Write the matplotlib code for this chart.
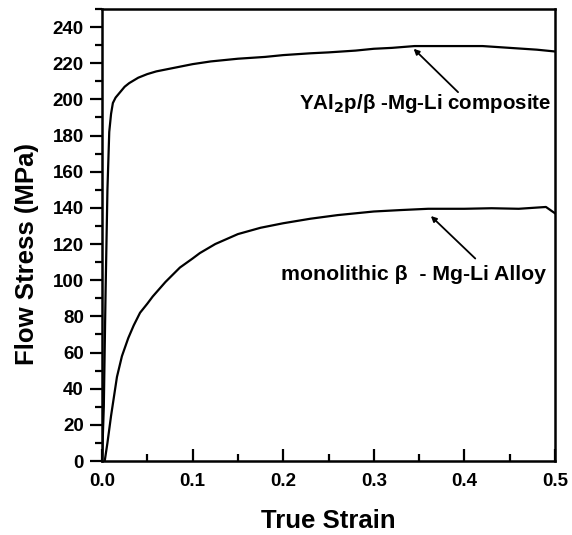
import matplotlib.pyplot as plt
import numpy as np
from matplotlib.ticker import MultipleLocator

plt.rcParams['font.family'] = ['Liberation Sans', 'DejaVu Sans']
plt.rcParams['font.weight'] = 'bold'

# composite curve
comp_strain = [0.0, 0.002, 0.004, 0.006, 0.008, 0.010, 0.012, 0.015, 0.020, 0.025,
               0.030, 0.040, 0.050, 0.060, 0.070, 0.080, 0.100, 0.120, 0.150,
               0.180, 0.200, 0.230, 0.250, 0.280, 0.300, 0.320, 0.345, 0.370,
               0.400, 0.420, 0.450, 0.480, 0.500]
comp_stress = [0, 30, 95, 150, 182, 192, 198, 201, 204, 207,
               209, 212, 214, 215.5, 216.5, 217.5, 219.5, 221, 222.5,
               223.5, 224.5, 225.5, 226, 227, 228, 228.5, 229.5, 229.5,
               229.5, 229.5, 228.5, 227.5, 226.5]

# monolithic alloy curve
mono_strain = [0.003, 0.006, 0.010, 0.0165, 0.022, 0.029, 0.035, 0.042, 0.050,
               0.056, 0.070, 0.086, 0.100, 0.108, 0.125, 0.150, 0.175, 0.200,
               0.230, 0.260, 0.300, 0.330, 0.360, 0.400, 0.430, 0.460, 0.490, 0.500]
mono_stress = [0, 10, 25, 46.5, 58, 68, 75, 82, 87,
               91, 99, 107, 112, 115, 120, 125.5, 129, 131.5,
               134, 136, 138, 138.8, 139.5, 139.5, 139.8, 139.5, 140.5, 137]

fig = plt.figure(figsize=(5.72, 5.35), dpi=100)
ax = fig.add_axes([102 / 572, 74 / 535, 453 / 572, 452 / 535])

ax.plot(comp_strain, comp_stress, color='black', lw=1.6)
ax.plot(mono_strain, mono_stress, color='black', lw=1.6)

ax.set_xlim(0, 0.5)
ax.set_ylim(0, 250)
ax.xaxis.set_major_locator(MultipleLocator(0.1))
ax.xaxis.set_minor_locator(MultipleLocator(0.05))
ax.yaxis.set_major_locator(MultipleLocator(20))
ax.yaxis.set_minor_locator(MultipleLocator(10))
ax.xaxis.set_major_formatter(plt.FuncFormatter(lambda v, p: f'{v:.1f}'))

for s in ax.spines.values():
    s.set_linewidth(1.8)
ax.tick_params(axis='x', which='both', direction='in', top=False, width=1.6, labelsize=13.5, pad=9)
ax.tick_params(axis='x', which='major', length=9)
ax.tick_params(axis='x', which='minor', length=5)
ax.tick_params(axis='y', which='both', direction='out', right=False, width=1.6, labelsize=13.5, pad=4)
ax.tick_params(axis='y', which='major', length=9)
ax.tick_params(axis='y', which='minor', length=5)

ax.set_xlabel('True Strain', fontsize=18.5, fontweight='bold', labelpad=13)
ax.set_ylabel('Flow Stress (MPa)', fontsize=18.5, fontweight='bold')
ax.yaxis.set_label_coords(-0.138, 0.458)

arrow = dict(arrowstyle='-|>', color='black', lw=1.3, mutation_scale=8, shrinkA=0, shrinkB=0)
ax.annotate('', xy=(0.344, 228), xytext=(0.393, 204), arrowprops=arrow)
ax.annotate('', xy=(0.363, 135.5), xytext=(0.412, 112), arrowprops=arrow)

ax.text(0.496, 198, r'YAl$_\mathbf{2}$p/β -Mg-Li composite', ha='right', va='center',
        fontsize=14.8, fontweight='bold')
ax.text(0.490, 103, 'monolithic β  - Mg-Li Alloy', ha='right', va='center',
        fontsize=15.3, fontweight='bold')

fig.savefig('out.png', dpi=100)
